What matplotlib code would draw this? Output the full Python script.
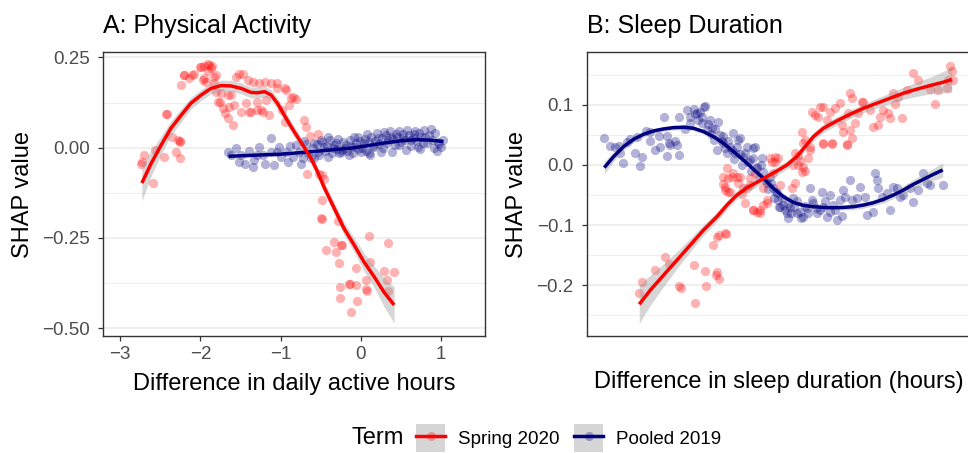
import matplotlib
matplotlib.use("Agg")
import matplotlib.pyplot as plt
import numpy as np
from matplotlib.patches import Patch, Rectangle
from matplotlib.lines import Line2D
from matplotlib.legend_handler import HandlerTuple, HandlerPatch

plt.rcParams['font.family'] = ['Liberation Sans', 'DejaVu Sans']

# ---------------- Panel A: Physical Activity ----------------
a_red_x = [-2.74, -2.70, -2.59, -2.42, -2.24, -2.21, -2.14, -2.08, -2.00, -1.95, -1.89, -1.85, -1.91, -1.83,
           -1.97, -1.93, -1.83, -1.78, -1.72, -1.70, -1.66, -1.60, -1.74, -1.62, -1.58, -1.64, -1.56, -1.52,
           -1.47, -1.41, -1.35, -1.39, -1.27, -1.20, -1.29, -1.22, -1.14, -1.12, -1.04, -0.93, -0.87, -0.81,
           -0.89, -0.98, -0.95, -0.71, -0.68, -0.54, -0.67, -0.48, -0.46, -0.49, -0.49, -0.44, -0.33, -0.31,
           -0.25, -0.27, -0.06, 0.10, 0.12, 0.34, 0.29, 0.41, 0.33, 0.06, 0.08, -0.15, -0.06, -0.26, -0.26,
           -0.05, -0.12, -2.46, -2.35, -2.28, -2.26, -2.30, -2.26, -2.57,
           -1.99, -1.91, -1.87, -1.81, -1.95, -2.20, -2.10, -1.04, -0.95, -0.85, -1.81, -1.76, -1.66, -1.43,
           -1.29, -1.18, -1.49, -1.37, -1.25, -2.43, -2.25, -2.73, -0.64, -0.52, -0.50, -0.29, -0.23, -0.13,
           0.07, 0.34]
a_red_y = [-0.044, -0.021, -0.099, 0.093, 0.174, 0.201, 0.192, 0.203, 0.223, 0.226, 0.229, 0.226, 0.211, 0.197,
           0.188, 0.183, 0.178, 0.127, 0.109, 0.095, 0.081, 0.063, 0.151, 0.146, 0.118, 0.113, 0.197, 0.204,
           0.204, 0.188, 0.183, 0.099, 0.178, 0.183, 0.104, 0.099, 0.090, 0.178, 0.178, 0.160, 0.137, 0.134,
           0.118, 0.104, 0.072, 0.076, 0.058, 0.039, -0.072, -0.076, -0.086, -0.144, -0.197, -0.285, -0.262, -0.289,
           -0.271, -0.320, -0.334, -0.245, -0.317, -0.265, -0.343, -0.345, -0.368, -0.368, -0.396, -0.377, -0.382,
           -0.386, -0.416, -0.426, -0.456, -0.025, 0.030, 0.021, 0.016, -0.012, -0.030, -0.007,
           0.224, 0.231, 0.220, 0.201, 0.192, 0.201, 0.201, 0.164, 0.164, 0.141, 0.155, 0.127, 0.146, 0.123,
           0.127, 0.132, 0.099, 0.099, 0.104, 0.092, 0.018, -0.041, 0.032, -0.072, -0.194, -0.203, -0.271, -0.379,
           -0.391, -0.398]

a_blue_x = [-1.66, -1.56, -1.49, -1.52, -1.35, -1.33, -1.27, -1.22, -1.20, -1.12, -1.12, -1.08, -1.02, -1.00,
            -0.93, -0.91, -0.85, -0.81, -0.77, -0.75, -0.71, -0.66, -0.62, -0.58, -0.54, -0.50, -0.46, -0.41,
            -0.41, -0.35, -0.31, -0.27, -0.23, -0.19, -0.15, -0.08, -0.04, 0.00, 0.04, 0.08, 0.10, 0.17, 0.21,
            0.25, 0.29, 0.33, 0.37, 0.39, 0.44, 0.48, 0.52, 0.56, 0.58, 0.62, 0.66, 0.71, 0.75, 0.79, 0.83,
            0.87, 0.91, 0.96, 1.00,
            -0.60, -0.55, -0.52, -0.48, -0.45, -0.42, -0.38, -0.36, -0.33, -0.30, -0.28, -0.25, -0.22, -0.20,
            -0.17, -0.14, -0.12, -0.10, -0.06, -0.03, -0.01, 0.02, 0.05, 0.07, 0.10, 0.13, 0.15, 0.18, 0.20,
            0.23, 0.26, 0.28, 0.31, 0.34, 0.36, 0.40, 0.42, 0.45, 0.47, 0.50, 0.53, 0.55, 0.60, 0.63, 0.65,
            0.68, 0.70, 0.73, 0.77, 0.80, 0.85, 0.89, 0.93, 0.98, 1.03, 0.95, 0.74, 0.12, -0.08, -0.58, -1.40,
            -1.62, -1.45, -1.30, -1.05, -0.88, -0.72, -0.68]
a_blue_y = [-0.013, -0.002, -0.021, -0.039, -0.053, -0.033, 0.002, -0.021, -0.044, 0.028, -0.012, -0.049, 0.002,
            -0.025, -0.012, -0.039, -0.025, 0.007, -0.012, -0.044, 0.019, -0.016, -0.030, 0.012, -0.012, 0.021,
            0.002, 0.030, -0.025, -0.002, 0.012, -0.016, -0.007, 0.007, -0.021, 0.002, 0.030, -0.012, 0.012,
            0.039, -0.016, 0.002, 0.026, -0.012, 0.044, 0.012, 0.030, -0.012, 0.039, 0.007, 0.026, -0.007, 0.049,
            0.021, 0.039, 0.002, 0.030, 0.049, 0.012, 0.053, -0.002, 0.016, 0.002,
            0.000, 0.010, -0.020, 0.015, -0.010, 0.005, 0.020, -0.015, 0.008, -0.005, 0.025, -0.012, 0.015, 0.000,
            -0.010, 0.020, 0.005, -0.015, 0.012, -0.005, 0.018, 0.000, 0.025, -0.008, 0.015, 0.030, 0.005, 0.018,
            0.040, 0.010, 0.028, 0.000, 0.035, 0.020, 0.045, 0.025, 0.008, 0.030, 0.045, 0.015, 0.038, 0.022,
            0.035, 0.005, 0.028, 0.045, 0.018, 0.040, 0.012, 0.030, 0.035, 0.020, 0.040, 0.010, 0.020, -0.008,
            -0.005, -0.020, 0.030, -0.030, -0.010, -0.020, -0.045, -0.020, -0.012, 0.005, -0.030, 0.010]

a_red_fit_x = [-2.73, -2.615, -2.49, -2.37, -2.24, -2.12, -1.99, -1.87, -1.74, -1.62, -1.49, -1.37, -1.29, -1.20,
               -1.12, -1.04, -0.955, -0.87, -0.79, -0.71, -0.62, -0.54, -0.46, -0.33, -0.21, -0.08, 0.04, 0.17,
               0.29, 0.415]
a_red_fit_y = [-0.098, -0.044, 0.007, 0.053, 0.090, 0.123, 0.146, 0.164, 0.172, 0.171, 0.164, 0.153, 0.152, 0.155,
               0.146, 0.123, 0.090, 0.058, 0.030, 0.002, -0.030, -0.067, -0.109, -0.169, -0.224, -0.271, -0.317,
               -0.359, -0.401, -0.436]
a_red_fit_se = [0.05, 0.035, 0.025, 0.02, 0.018, 0.016, 0.015, 0.015, 0.015, 0.015, 0.015, 0.015, 0.015, 0.015,
                0.015, 0.015, 0.015, 0.015, 0.015, 0.015, 0.015, 0.015, 0.015, 0.016, 0.018, 0.02, 0.025, 0.03,
                0.04, 0.05]

a_blue_fit_x = [-1.65, -1.33, -1.0, -0.7, -0.4, -0.1, 0.1, 0.3, 0.5, 0.7, 0.85, 1.03]
a_blue_fit_y = [-0.024, -0.021, -0.018, -0.013, -0.007, -0.001, 0.006, 0.013, 0.019, 0.022, 0.021, 0.017]
a_blue_fit_se = [0.008, 0.006, 0.005, 0.004, 0.004, 0.004, 0.004, 0.004, 0.004, 0.004, 0.005, 0.007]

a_xticks = [-3, -2, -1, 0, 1]
a_yticks = [0.25, 0.00, -0.25, -0.50]
a_ytick_labels = ["0.25", "0.00", "\u22120.25", "\u22120.50"]

# ---------------- Panel B: Sleep Duration ----------------
b_red_x = [-1.41, -1.383, -1.25, -1.15, -1.117, -1.017, -0.993, -0.867, -0.85, -0.75, -0.74, -0.673, -0.633,
           -0.607, -0.54, -0.633, -0.607, -0.64, -0.573, -0.55, -0.517, -0.533, -0.483, -0.433, -0.383, -0.35,
           -0.333, -0.267, -0.233, -0.20, -0.167, -0.133, -0.30, -0.25, -0.167, -0.10, -0.05, -0.017, 0.0,
           0.117, 0.133, 0.15, 0.183, 0.20, 0.233, 0.25, 0.217, 0.25, 0.233, 0.30, 0.317, 0.35, 0.383, 0.40,
           0.433, 0.467, 0.50, 0.433, 0.517, 0.55, 0.60, 0.617, 0.633, 0.667, 0.683, 0.70, 0.717, 0.70, 0.717,
           0.75, 0.783, 0.817, 0.833, 0.90, 0.933, 0.983, 1.00, 1.033, 1.083, 1.133, 1.15, 1.183, 1.217, 1.267,
           1.333, 1.383, 1.50, 1.55, 1.583, 1.667, 1.683, 1.70, 1.717, 1.733, 1.10,
           -0.567, -0.517, -0.467, -0.40, -0.55, -0.50, -0.367, -0.417, -0.30, -0.267, -0.20, -0.133, -0.05,
           -0.083, -0.067, 0.183, 0.217, 0.15, 0.283, 0.30, 0.433, 0.517, 0.667, -0.55]
b_red_y = [-0.2128, -0.1944, -0.1739, -0.1528, -0.1639, -0.2017, -0.2039, -0.1672, -0.2289, -0.1767, -0.2017,
           -0.1333, -0.1194, -0.1167, -0.115, -0.1778, -0.1889, -0.1822, -0.0317, -0.0372, -0.0444, -0.0056,
           -0.0206, -0.0194, -0.0483, -0.0628, -0.0389, -0.075, -0.0778, -0.0806, -0.0667, -0.0639, -0.0222,
           -0.0139, -0.0389, 0.0111, 0.0056, 0.0111, -0.0333, -0.0389, 0.0, 0.0206, 0.015, 0.0072, -0.0028,
           -0.0094, 0.0556, 0.0417, 0.0361, 0.025, 0.0889, 0.0833, 0.0794, 0.0972, 0.0972, 0.075, 0.0889, 0.035,
           0.035, 0.0944, 0.1028, 0.0667, 0.0556, 0.035, 0.0861, 0.0583, 0.0444, 0.1194, 0.1111, 0.0694, 0.0861,
           0.1056, 0.1056, 0.0917, 0.0639, 0.0667, 0.0806, 0.0917, 0.0861, 0.1194, 0.1017, 0.1139, 0.0778,
           0.125, 0.1528, 0.1417, 0.1261, 0.1017, 0.125, 0.1278, 0.1417, 0.1639, 0.1556, 0.1417, 0.0778,
           -0.0194, -0.0222, -0.0139, -0.0194, -0.0417, -0.0444, -0.0389, -0.0306, -0.0333, -0.075, -0.075,
           -0.0583, 0.0139, 0.0056, -0.0139, 0.0, -0.0111, -0.0306, 0.0111, 0.0306, 0.0361, 0.0361, 0.0333,
           -0.1139]

b_blue_x = [-1.76, -1.707, -1.65, -1.617, -1.573, -1.533, -1.50, -1.433, -1.40, -1.383, -1.34, -1.30, -1.25,
            -1.217, -1.167, -1.133, -1.117, -1.10, -1.133, -1.017, -1.017, -1.033, -0.933, -0.90, -0.867, -0.833,
            -0.80, -0.767, -0.75, -0.783, -0.733, -0.70, -0.683, -0.617, -0.667, -0.633, -0.567, -0.567, -0.533,
            -0.50, -0.467, -0.45, -0.417, -0.40, -0.367, -0.333, -0.267, -0.25, -0.30, -0.233, -0.183, -0.167,
            -0.133, -0.10, -0.067, -0.033, -0.017, 0.0, 0.033, 0.067, 0.083, 0.10, 0.133, 0.167, 0.20, 0.233,
            0.267, 0.30, 0.333, 0.367, 0.40, 0.417, 0.433, 0.467, 0.50, 0.533, 0.567, 0.60, 0.633, 0.65, 0.70,
            0.717, 0.767, 0.80, 0.85, 0.867, 0.933, 0.95, 0.967, 0.983, 1.017, 1.067, 1.10, 1.133, 1.167, 1.20,
            1.233, 1.30, 1.333, 1.383, 1.433, 1.467, 1.50, 1.633,
            -0.85, -0.82, -0.78, -0.72, -0.69, -0.65, -0.60, -0.58, -0.55, -0.52, -0.48, -0.46, -0.43, -0.40,
            -0.38, -0.35, -0.32, -0.29, -0.27, -0.24, -0.21, -0.19, -0.15, -0.12, -0.09, -0.06, -0.04, -0.01,
            0.02, 0.05, 0.08, 0.11, 0.14, 0.17, 0.21, 0.25, 0.28, 0.32, 0.36, 0.45, 0.50, 0.55, 0.62, -1.05,
            -1.20, -1.45, -1.60, -1.30, -0.95, -0.90]
b_blue_y = [0.0456, 0.0317, 0.0294, 0.0317, 0.0039, 0.0389, 0.0428, 0.0461, -0.0017, 0.0128, 0.0572, 0.040,
            0.025, 0.0483, 0.0794, 0.0478, 0.0361, 0.0333, 0.015, 0.0167, 0.0794, 0.0333, 0.0917, 0.0806, 0.0933,
            0.0861, 0.0889, 0.0972, 0.0983, 0.0694, 0.0583, 0.075, 0.0611, 0.0722, 0.0417, 0.025, 0.0361, 0.0478,
            0.0194, 0.0306, 0.0528, 0.0194, 0.0417, 0.0444, 0.0139, 0.0306, 0.0278, 0.0306, 0.0083, -0.0028,
            0.0111, -0.0111, -0.0306, -0.0194, -0.0389, -0.0472, -0.0583, -0.0694, -0.0667, -0.0806, -0.0889,
            -0.0694, -0.0556, -0.0806, -0.0778, -0.0861, -0.0722, -0.0389, -0.0639, -0.0806, -0.075, -0.0444,
            -0.0694, -0.0861, -0.0778, -0.0667, -0.0917, -0.0583, -0.0417, -0.0528, -0.025, -0.0583, -0.0556,
            -0.0361, -0.0528, -0.0833, -0.0778, -0.0139, -0.025, -0.0389, -0.0528, -0.0472, -0.075, -0.0361,
            -0.0389, -0.0528, -0.050, -0.0389, -0.0611, -0.0417, -0.0139, -0.0306, -0.0333, -0.0333,
            0.085, 0.075, 0.080, 0.068, 0.052, 0.060, 0.050, 0.040, 0.028, 0.040, 0.025, 0.010, 0.030, 0.018,
            0.000, 0.020, 0.005, -0.010, 0.012, -0.005, -0.020, 0.000, -0.025, -0.040, -0.030, -0.055, -0.045,
            -0.070, -0.055, -0.075, -0.065, -0.080, -0.070, -0.060, -0.088, -0.068, -0.080, -0.058, -0.072,
            -0.060, -0.050, -0.075, -0.085, 0.040, 0.030, 0.020, 0.020, 0.055, 0.060, 0.070]

b_red_fit_x = [-1.41, -1.30, -1.167, -1.033, -0.90, -0.767, -0.633, -0.533, -0.433, -0.333, -0.233, -0.133,
               -0.033, 0.067, 0.167, 0.25, 0.333, 0.433, 0.567, 0.70, 0.833, 0.967, 1.10, 1.233, 1.367, 1.50,
               1.633, 1.717]
b_red_fit_y = [-0.2317, -0.2083, -0.1833, -0.1583, -0.1333, -0.1083, -0.0861, -0.0667, -0.050, -0.0378, -0.0289,
               -0.0194, -0.010, 0.000, 0.0139, 0.0306, 0.0472, 0.0611, 0.0733, 0.0844, 0.0944, 0.1028, 0.1111,
               0.1194, 0.1261, 0.1322, 0.1378, 0.1422]
b_red_fit_se = [0.032, 0.025, 0.019, 0.014, 0.011, 0.009, 0.008, 0.007, 0.007, 0.007, 0.007, 0.007, 0.007, 0.007,
                0.007, 0.007, 0.007, 0.007, 0.007, 0.007, 0.007, 0.008, 0.009, 0.010, 0.012, 0.014, 0.018, 0.021]

b_blue_fit_x = [-1.76, -1.667, -1.567, -1.467, -1.367, -1.267, -1.167, -1.067, -0.967, -0.867, -0.767, -0.667,
                -0.567, -0.467, -0.367, -0.267, -0.167, -0.067, 0.033, 0.133, 0.233, 0.333, 0.433, 0.533, 0.633,
                0.733, 0.833, 0.933, 1.033, 1.133, 1.233, 1.333, 1.433, 1.533, 1.627]
b_blue_fit_y = [-0.0044, 0.0139, 0.0306, 0.0428, 0.0511, 0.0567, 0.060, 0.0622, 0.0628, 0.0611, 0.0556, 0.0472,
                0.0361, 0.0222, 0.0083, -0.0072, -0.0222, -0.0389, -0.0528, -0.0622, -0.0672, -0.0694, -0.0706,
                -0.0711, -0.0706, -0.0694, -0.0667, -0.0628, -0.0572, -0.050, -0.0417, -0.0322, -0.0239, -0.0156,
                -0.0083]
b_blue_fit_se = [0.010, 0.008, 0.006, 0.005, 0.005, 0.004, 0.004, 0.004, 0.004, 0.004, 0.004, 0.004, 0.004, 0.004,
                 0.004, 0.004, 0.004, 0.004, 0.004, 0.004, 0.004, 0.004, 0.004, 0.004, 0.004, 0.005, 0.005, 0.005,
                 0.006, 0.006, 0.007, 0.008, 0.009, 0.010, 0.012]

b_yticks = [0.1, 0.0, -0.1, -0.2]
b_ytick_labels = ["0.1", "0.0", "\u22120.1", "\u22120.2"]

series_names = ["Spring 2020", "Pooled 2019"]
series_colors = ["#FF0000", "#000080"]

# ---------------- Drawing ----------------
W, H = 968, 453
fig = plt.figure(figsize=(W / 100, H / 100), dpi=100)

def px_rect(l, r, t, b):
    return [l / W, (H - b) / H, (r - l) / W, (b - t) / H]

axA = fig.add_axes(px_rect(103, 485, 52, 336))
axB = fig.add_axes(px_rect(587, 970, 52, 336))

grid_col = "#EBEBEB"
band_col = "#999999"

def style(ax):
    for s in ax.spines.values():
        s.set_color("#333333")
        s.set_linewidth(1.0)
    ax.set_facecolor("white")
    ax.tick_params(axis="both", which="major", color="#333333", width=0.9, length=3.5,
                   labelsize=13.5, labelcolor="#4D4D4D", pad=4)
    ax.tick_params(axis="y", which="major", pad=6)
    ax.tick_params(axis="both", which="minor", length=0)
    ax.grid(False, axis="x")
    ax.yaxis.grid(True, which="major", color=grid_col, linewidth=1.1)
    ax.yaxis.grid(True, which="minor", color=grid_col, linewidth=0.6)
    ax.set_axisbelow(True)

def draw(ax, bx, by, rx, ry, fbx, fby, fbs, frx, fry, frs):
    ax.scatter(bx, by, s=44, color=series_colors[1], alpha=0.3, linewidths=0, zorder=2)
    ax.scatter(rx, ry, s=44, color=series_colors[0], alpha=0.3, linewidths=0, zorder=2)
    fbx, fby, fbs = map(np.asarray, (fbx, fby, fbs))
    frx, fry, frs = map(np.asarray, (frx, fry, frs))
    ax.fill_between(fbx, fby - fbs, fby + fbs, color=band_col, alpha=0.4, linewidth=0, zorder=3)
    ax.fill_between(frx, fry - frs, fry + frs, color=band_col, alpha=0.4, linewidth=0, zorder=3)
    ax.plot(fbx, fby, color=series_colors[1], linewidth=2.5, zorder=4, solid_capstyle="butt")
    ax.plot(frx, fry, color=series_colors[0], linewidth=2.5, zorder=5, solid_capstyle="butt")

style(axA)
draw(axA, a_blue_x, a_blue_y, a_red_x, a_red_y, a_blue_fit_x, a_blue_fit_y, a_blue_fit_se,
     a_red_fit_x, a_red_fit_y, a_red_fit_se)
axA.set_xlim(-3.215, 1.548)
axA.set_ylim(-0.522, 0.265)
axA.set_xticks(a_xticks)
axA.set_xticklabels(["\u22123", "\u22122", "\u22121", "0", "1"])
axA.set_yticks(a_yticks)
axA.set_yticklabels(a_ytick_labels)
axA.set_yticks([0.125, -0.125, -0.375], minor=True)
axA.set_xlabel("Difference in daily active hours", fontsize=17, labelpad=7)
axA.set_ylabel("SHAP value", fontsize=17, labelpad=6)
axA.set_title("A: Physical Activity", loc="left", fontsize=18, pad=14)

style(axB)
draw(axB, b_blue_x, b_blue_y, b_red_x, b_red_y, b_blue_fit_x, b_blue_fit_y, b_blue_fit_se,
     b_red_fit_x, b_red_fit_y, b_red_fit_se)
axB.set_xlim(-1.933, 1.90)
axB.set_ylim(-0.2845, 0.188)
axB.set_xticks([])
axB.set_yticks(b_yticks)
axB.set_yticklabels(b_ytick_labels)
axB.set_yticks([0.15, 0.05, -0.05, -0.15, -0.25], minor=True)
axB.set_xlabel("Difference in sleep duration (hours)", fontsize=17, labelpad=25)
axB.set_ylabel("SHAP value", fontsize=17, labelpad=6)
axB.set_title("B: Sleep Duration", loc="left", fontsize=18, pad=14)

# legend
def key_box(legend, orig_handle, xdescent, ydescent, width, height, fontsize):
    h = 28 * 0.72  # ~28 px tall key box, in points
    return Rectangle((-xdescent, -ydescent + height / 2 - h / 2), width, h)

handles = []
for c in series_colors:
    handles.append((Patch(facecolor="#D6D6D6", edgecolor="none"),
                    Line2D([], [], color=c, linewidth=2.5),
                    Line2D([], [], linestyle="none", marker="o", markersize=6.5,
                           markerfacecolor=c, markeredgecolor="none", alpha=0.3)))
fig.text(352 / W, 1 - 438 / H, "Term", fontsize=17, va="center", ha="left")
leg = fig.legend(handles, series_names,
                 handler_map={tuple: HandlerTuple(ndivide=1, pad=0),
                              Patch: HandlerPatch(patch_func=key_box)},
                 loc="center left", bbox_to_anchor=(416 / W, 1 - 438 / H), ncol=2, frameon=False,
                 fontsize=13.5, handlelength=1.56, handleheight=1.45, handletextpad=0.7,
                 columnspacing=0.75, borderpad=0, borderaxespad=0)

fig.savefig("out.png", dpi=100)
